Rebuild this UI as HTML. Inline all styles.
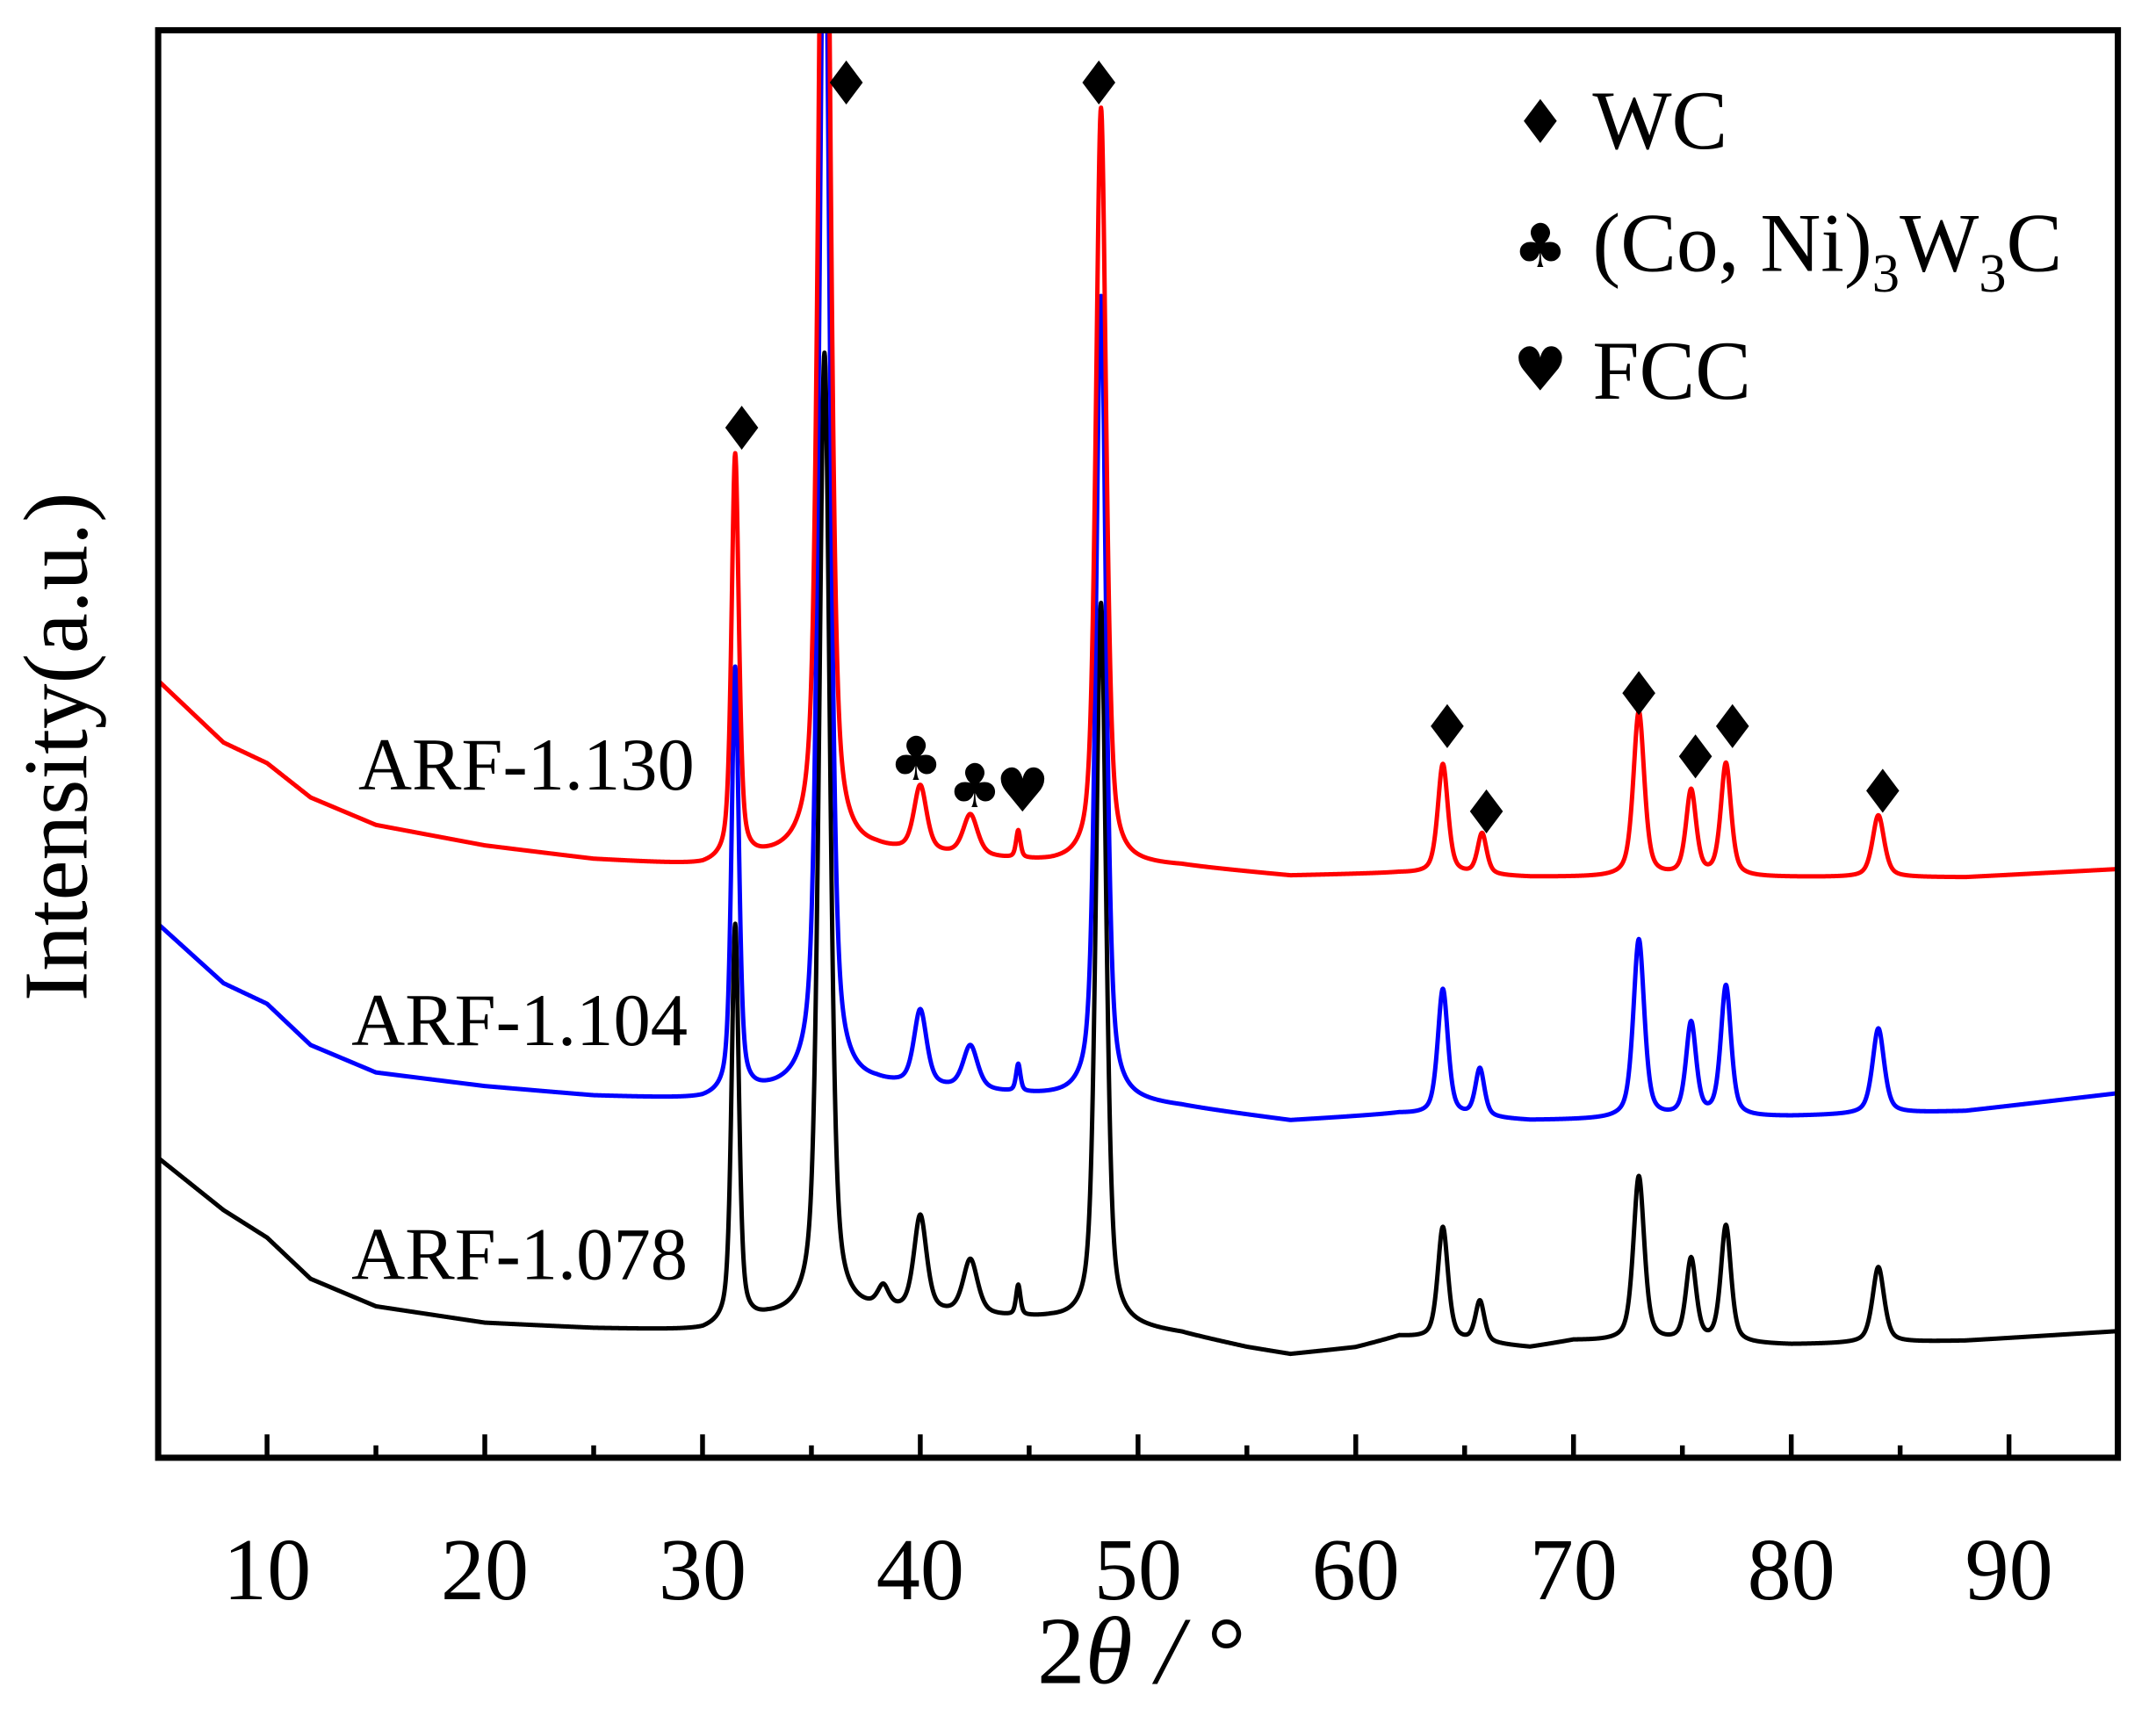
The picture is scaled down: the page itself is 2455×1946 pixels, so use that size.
<!DOCTYPE html>
<html><head><meta charset="utf-8"><style>
html,body{margin:0;padding:0;background:#fff;}
svg{display:block;}
text{font-family:"Liberation Serif","DejaVu Serif",serif;fill:#000;}
</style></head><body>
<svg id="chart" width="2455" height="1946" viewBox="0 0 1567.7 1242.7" xmlns="http://www.w3.org/2000/svg">
<defs><clipPath id="plotclip"><rect x="117" y="24" width="1421" height="1034"/></clipPath></defs>
<g id="series" clip-path="url(#plotclip)"></g>
<g id="markers"></g>
<rect x="115" y="22" width="1425" height="1038" fill="none" stroke="#000" stroke-width="4.5"/>
<g id="xticks"></g>
<text x="830" y="1224" font-size="70" text-anchor="middle">2<tspan font-style="italic">θ</tspan><tspan font-style="italic"> / </tspan>°</text>
<text transform="translate(63,543) rotate(-90)" font-size="66" text-anchor="middle">Intensity(a.u.)</text>
<g>
<polygon points="1120,72 1132,88 1120,104 1108,88" fill="#000"/>
<text x="1158" y="108" font-size="61">WC</text>
<text x="1120" y="194" font-size="44" text-anchor="middle" style="font-family:'DejaVu Sans',sans-serif">♣</text>
<text x="1158" y="197" font-size="61">(Co, Ni)<tspan font-size="40" dy="15">3</tspan><tspan dy="-15">W</tspan><tspan font-size="40" dy="15">3</tspan><tspan dy="-15">C</tspan></text>
<text x="1120" y="284" font-size="44" text-anchor="middle" style="font-family:'DejaVu Sans',sans-serif">♥</text>
<text x="1158" y="290" font-size="61">FCC</text>
</g>
<text x="505" y="574" font-size="54" text-anchor="end">ARF-1.130</text>
<text x="500" y="760" font-size="54" text-anchor="end">ARF-1.104</text>
<text x="500" y="930" font-size="54" text-anchor="end">ARF-1.078</text>
</svg>
<script>
const xTicks = [10,20,30,40,50,60,70,80,90];
const xMinor = [15,25,35,45,55,65,75,85];
// baselines: [2theta, intensity] ; intensity in a.u. (0 = plot bottom)
const baseBlack = [[5,218],[8,180],[10,160],[12,130],[15,110],[20,98],[25,94],[30,92],[33,100],[38,105],[46,100],[52,90],[55,80],[57,75],[60,80],[62,88],[68,80],[70,85],[80,82],[88,85],[95,92]];
const baseBlue = [[5,388],[8,345],[10,330],[12,300],[15,280],[20,270],[25,263],[30,260],[33,265],[38,270],[46,262],[52,255],[57,245],[62,250],[68,245],[80,248],[88,252],[95,265]];
const baseRed = [[5,565],[8,520],[10,505],[12,480],[15,460],[20,445],[25,435],[30,430],[33,435],[38,440],[46,432],[52,430],[57,423],[62,425],[68,422],[80,422],[88,422],[95,428]];
// peaks: [position, height, hwhm]
const peaksBlack = [[31.5,290,0.2],[35.6,700,0.3],[38.3,15,0.3],[40.0,70,0.35],[42.3,40,0.4],[44.5,22,0.12],[48.3,525,0.28],[64.0,82,0.28],[65.7,30,0.25],[73.0,120,0.3],[75.4,60,0.28],[77.0,85,0.28],[84.0,55,0.32]];
const peaksBlue = [[31.5,310,0.2],[35.6,900,0.3],[40.0,55,0.35],[42.3,32,0.4],[44.5,20,0.12],[48.3,585,0.28],[64.0,92,0.28],[65.7,35,0.25],[73.0,130,0.3],[75.4,68,0.28],[77.0,95,0.28],[84.0,62,0.32]];
const peaksRed = [[31.5,295,0.2],[35.6,950,0.3],[40.0,48,0.35],[42.3,30,0.4],[44.5,20,0.12],[48.3,550,0.28],[64.0,80,0.28],[65.8,30,0.25],[73.0,120,0.3],[75.4,62,0.28],[77.0,82,0.28],[84.0,45,0.32]];
const seriesNames = ['ARF-1.078','ARF-1.104','ARF-1.130'];
const seriesColors = ['#000000','#0000ff','#ff0000'];
const wcMarkers = [[31.8,311],[36.6,60],[48.2,60],[64.2,528],[66.0,590],[73.0,504],[75.6,550],[77.3,528],[84.2,575]];
const clubMarkers = [[39.8,552],[42.5,572]];
const heartMarkers = [[44.7,575]];

const X0=5, X1=95, PL=115, PR=1540, PB=1060;
function xs(v){return PL+(v-X0)*(PR-PL)/(X1-X0);}
function ys(v){return PB-v;}
function baseAt(b,x){for(let i=0;i<b.length-1;i++){if(x<=b[i+1][0]){const t=(x-b[i][0])/(b[i+1][0]-b[i][0]);return b[i][1]+t*(b[i+1][1]-b[i][1]);}}return b[b.length-1][1];}
function prof(pk,x){const d=(x-pk[0])/pk[2];const L=1/(1+d*d);const G=Math.exp(-0.693*d*d);return pk[1]*(0.55*L+0.45*G);}
const NS='http://www.w3.org/2000/svg';
const sg=document.getElementById('series');
const bases=[baseBlack,baseBlue,baseRed], peaks=[peaksBlack,peaksBlue,peaksRed];
for(let s=0;s<3;s++){
  let d='';
  for(let x=X0;x<=X1+1e-9;x+=0.02){
    let v=baseAt(bases[s],x);
    for(const p of peaks[s]) v+=prof(p,x);
    d+=(d?'L':'M')+xs(x).toFixed(2)+','+ys(v).toFixed(2);
  }
  const p=document.createElementNS(NS,'path');
  p.setAttribute('d',d);p.setAttribute('fill','none');p.setAttribute('stroke',seriesColors[s]);
  p.setAttribute('stroke-width','3.2');p.setAttribute('stroke-linejoin','round');
  
  
  sg.appendChild(p);
}
const xt=document.getElementById('xticks');
for(const t of xTicks){
  const l=document.createElementNS(NS,'line');
  l.setAttribute('x1',xs(t));l.setAttribute('x2',xs(t));l.setAttribute('y1',PB);l.setAttribute('y2',PB-17);
  l.setAttribute('stroke','#000');l.setAttribute('stroke-width','3.5');
  
  
  xt.appendChild(l);
  const tx=document.createElementNS(NS,'text');
  tx.setAttribute('x',xs(t));tx.setAttribute('y',1163);tx.setAttribute('font-size','64');tx.setAttribute('text-anchor','middle');
  tx.textContent=t;
  
  
  xt.appendChild(tx);
}
for(const t of xMinor){
  const l=document.createElementNS(NS,'line');
  l.setAttribute('x1',xs(t));l.setAttribute('x2',xs(t));l.setAttribute('y1',PB);l.setAttribute('y2',PB-9);
  l.setAttribute('stroke','#000');l.setAttribute('stroke-width','3.5');
  
  
  xt.appendChild(l);
}
const mg=document.getElementById('markers');
for(const m of wcMarkers){
  const cx=xs(m[0]),cy=m[1];
  const p=document.createElementNS(NS,'polygon');
  p.setAttribute('points',`${cx},${cy-16} ${cx+12},${cy} ${cx},${cy+16} ${cx-12},${cy}`);
  p.setAttribute('fill','#000');
  
  
  mg.appendChild(p);
}
function glyph(list,ch,name){for(const m of list){
  const t=document.createElementNS(NS,'text');
  t.setAttribute('x',xs(m[0]));t.setAttribute('y',m[1]+15);t.setAttribute('font-size','44');t.setAttribute('text-anchor','middle');
  t.setAttribute('style',"font-family:'DejaVu Sans',sans-serif");t.textContent=ch;
  
  
  mg.appendChild(t);}}
glyph(clubMarkers,'♣','carbide-peak-marker');
glyph(heartMarkers,'♥','fcc-peak-marker');
</script>
</body></html>
